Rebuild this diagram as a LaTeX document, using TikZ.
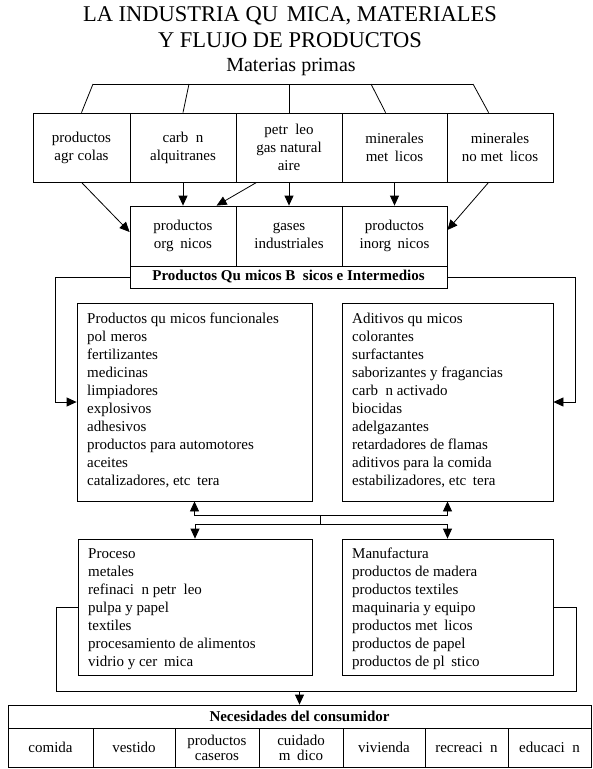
\documentclass[tikz,border=0pt]{standalone}
\usepackage{fontspec}
\setmainfont{Liberation Serif}
\usetikzlibrary{arrows.meta,calc}
\newcommand\gpA{\hspace{0.444em}}
\newcommand\gpE{\hspace{0.444em}}
\newcommand\gpI{\hspace{0.278em}}
\newcommand\gpO{\hspace{0.5em}}
\begin{document}
\begin{tikzpicture}[x=1pt,y=-1pt,
  every node/.style={font=\fontsize{15}{18}\selectfont},
  box/.style={draw, line width=0.8pt, inner sep=0pt, align=center},
  list/.style={anchor=north west, inner sep=0pt, align=left},
  conn/.style={line width=0.8pt},
  arr/.style={line width=0.8pt, -{Triangle[length=10pt,width=9pt]}},
  ttl/.style={anchor=base, inner sep=0pt, font=\fontsize{22.5}{27}\selectfont},
]
\useasboundingbox (0,0) rectangle (593,769);
% titles
\node[ttl] (title1) at (290,21) {LA INDUSTRIA QU\hspace{0.389em}MICA, MATERIALES};
\node[ttl] (title2) at (290,47) {Y FLUJO DE PRODUCTOS};
\node[ttl, font=\fontsize{20}{24}\selectfont] (mp) at (291,71) {Materias primas};
% raw materials
\node[box, minimum width=97pt, minimum height=69pt] (b1) at (81.5,147.5) {productos\\agr\gpI colas};
\node[box, minimum width=106pt, minimum height=69pt] (b2) at (183,147.5) {carb\gpO n\\alquitranes};
\node[box, minimum width=106pt, minimum height=69pt] (b3) at (289,147.5) {petr\gpO leo\\gas natural\\aire};
\node[box, minimum width=105pt, minimum height=69pt] (b4) at (394.5,147.5) {minerales\\met\gpA licos};
\node[box, minimum width=106pt, minimum height=69pt] (b5) at (500,147.5) {minerales\\no met\gpA licos};
% tree
\coordinate (t1) at (93,84);
\coordinate (t2) at (189,84);
\coordinate (t3) at (289,84);
\coordinate (t4) at (371,84);
\coordinate (t5) at (473,84);
\draw[conn] (t1) -- (t5);
\draw[conn] (t1) -- (b1.north);
\draw[conn] (t2) -- (b2.north);
\draw[conn] (t3) -- (b3.north);
\draw[conn] (t4) -- ($(b4.north west)+(44,0)$);
\draw[conn] (t5) -- ($(b5.north west)+(42,0)$);
% basic products
\node[box, minimum width=106pt, minimum height=60pt] (c1) at (183,236) {productos\\org\gpA nicos};
\node[box, minimum width=106pt, minimum height=60pt] (c2) at (289,236) {gases\\industriales};
\node[box, minimum width=105pt, minimum height=60pt] (c3) at (394.5,236) {productos\\inorg\gpA nicos};
\node[box, minimum width=317pt, minimum height=22pt, font=\fontsize{15}{18}\selectfont\bfseries] (s) at (288.5,277) {Productos Qu\gpI micos B\hspace{0.5em}sicos e Intermedios};
% arrows row 1 -> row 2
\draw[arr] (b2.south) -- (c1.north);
\draw[arr] (b3.south) -- (c2.north);
\draw[arr] (b4.south) -- (c3.north);
\draw[arr] ($(b3.south west)+(21,0)$) -- ($(c1.north west)+(87,0)$);
\draw[arr] (b1.south) -- ($(c1.west)+(0,-4)$);
\draw[arr] ($(b5.south west)+(42,0)$) -- ($(c3.east)+(0,-6)$);
% big boxes
\node[box, minimum width=235pt, minimum height=198pt] (L1) at (194.5,402) {};
\node[box, minimum width=211pt, minimum height=198pt] (R1) at (447.5,402) {};
\node[list] (L1t) at (87,313) {Productos qu\gpI micos funcionales\\pol\gpI meros\\fertilizantes\\medicinas\\limpiadores\\explosivos\\adhesivos\\productos para automotores\\aceites\\catalizadores, etc\gpE tera};
\node[list] (R1t) at (352,313) {Aditivos qu\gpI micos\\colorantes\\surfactantes\\saborizantes y fragancias\\carb\gpO n activado\\biocidas\\adelgazantes\\retardadores de flamas\\aditivos para la comida\\estabilizadores, etc\gpE tera};
\coordinate (cl) at (55,402);
\coordinate (cr) at (575,402);
\draw[arr] (s.west) -| (cl) -- (L1.west);
\draw[arr] (s.east) -| (cr) -- (R1.east);
% lower boxes
\node[box, minimum width=234pt, minimum height=136pt] (L2) at (195,607) {};
\node[box, minimum width=211pt, minimum height=136pt] (R2) at (447.5,607) {};
\node[list] (L2t) at (88,548) {Proceso\\metales\\refinaci\gpO n petr\gpO leo\\pulpa y papel\\textiles\\procesamiento de alimentos\\vidrio y cer\gpA mica};
\node[list] (R2t) at (352,548) {Manufactura\\productos de madera\\productos textiles\\maquinaria y equipo\\productos met\gpA licos\\productos de papel\\productos de pl\gpA stico};
\coordinate (m1) at (320,515);
\coordinate (m2) at (320,524);
\draw[arr] (m1) -| (L1.south);
\draw[arr] (m1) -| (R1.south);
\draw[conn] (m1) -- (m2);
\draw[arr] (m2) -| (L2.north);
\draw[arr] (m2) -| (R2.north);
% consumer needs
\node[box, minimum width=583pt, minimum height=23pt, font=\fontsize{15}{18}\selectfont\bfseries] (need) at (299.5,716.5) {Necesidades del consumidor};
\node[box, minimum width=85pt, minimum height=39pt] (n1) at (50.5,747.5) {comida};
\node[box, minimum width=82pt, minimum height=39pt] (n2) at (134,747.5) {vestido};
\node[box, minimum width=84pt, minimum height=39pt, font=\fontsize{15}{15}\selectfont] (n3) at (217,747.5) {productos\\caseros};
\node[box, minimum width=84pt, minimum height=39pt, font=\fontsize{15}{15}\selectfont] (n4) at (301,747.5) {cuidado\\m\gpE dico};
\node[box, minimum width=82pt, minimum height=39pt] (n5) at (384,747.5) {vivienda};
\node[box, minimum width=83pt, minimum height=39pt] (n6) at (466.5,747.5) {recreaci\gpO n};
\node[box, minimum width=83pt, minimum height=39pt] (n7) at (549.5,747.5) {educaci\gpO n};
\coordinate (ll) at (56,691);
\coordinate (lr) at (576,691);
\coordinate (j) at (299.5,691);
\draw[conn] (L2.west) -| (ll) -- (lr) |- (R2.east);
\draw[arr] (j) -- (need.north);
\end{tikzpicture}
\end{document}
